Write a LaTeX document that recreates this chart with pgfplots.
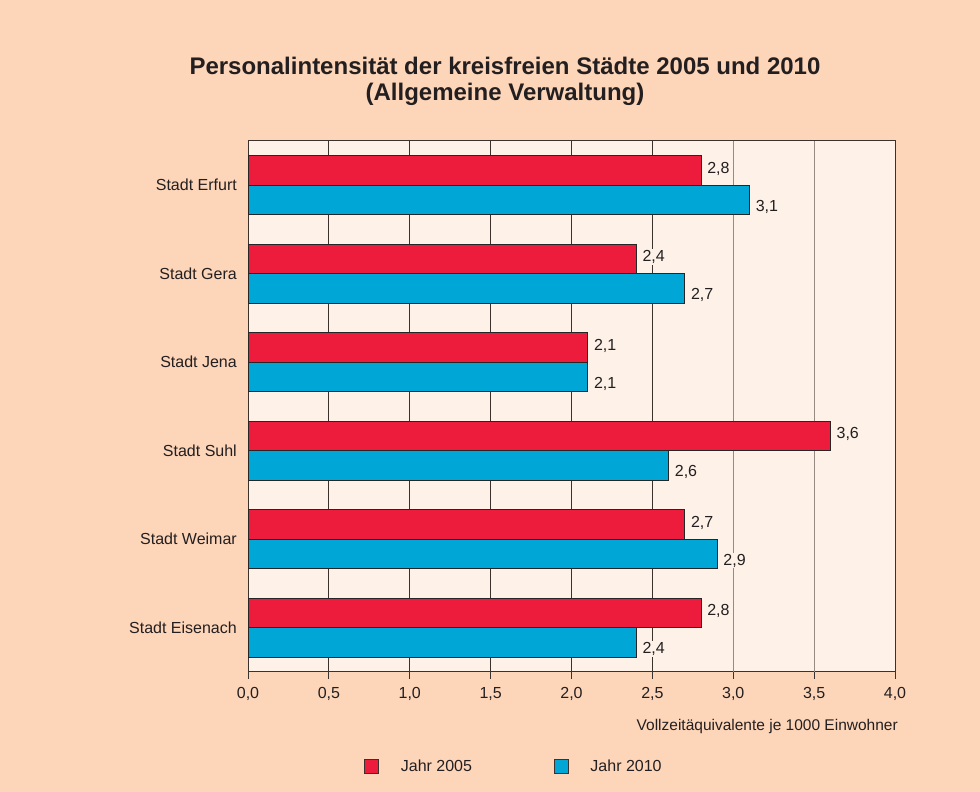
\documentclass[border=0pt]{standalone}
\usepackage{fontspec}
\setmainfont{Liberation Sans}
\usepackage{pgfplots}
\pgfplotsset{compat=1.18}
\definecolor{outerbg}{RGB}{253,213,185}
\definecolor{plotbg}{RGB}{253,241,232}
\definecolor{barred}{RGB}{238,28,60}
\definecolor{barblue}{RGB}{0,166,214}
\definecolor{txt}{RGB}{35,31,32}
\definecolor{griddark}{RGB}{60,50,45}
\definecolor{gridlight}{RGB}{150,138,130}
\begin{document}
\begin{tikzpicture}[x=1pt,y=1pt]
\fill[outerbg] (0,0) rectangle (980,792);
\begin{axis}[
  at={(248pt,120pt)}, anchor=south west,
  scale only axis, width=647pt, height=531pt,
  xmin=0, xmax=4, ymin=-0.5, ymax=5.5,
  xbar, bar width=29.5pt,
  axis background/.style={fill=plotbg},
  axis line style={draw=griddark, line width=1pt},
  xtick={0,0.5,1,1.5,2,2.5,4},
  extra x ticks={3,3.5},
  extra x tick style={grid style={gridlight, line width=1pt}},
  xmajorgrids, grid style={griddark, line width=0.9pt},
  tick align=outside, xtick pos=bottom, ytick pos=left, major tick length=7pt,
  tick style={griddark, line width=0.9pt},
  ytick={0,...,5}, ytick style={draw=none},
  yticklabels={Stadt Eisenach,Stadt Weimar,Stadt Suhl,Stadt Jena,Stadt Gera,Stadt Erfurt},
  /pgf/number format/.cd, use comma, fixed, fixed zerofill, precision=1, assume math mode=true,
  /pgfplots/.cd,
  every tick label/.append style={font=\fontsize{16}{19}\selectfont, text=txt},
  yticklabel style={inner sep=0pt, xshift=-4pt},
  xticklabel style={inner sep=0pt, yshift=-8pt},
  xlabel={Vollzeitäquivalente je 1000 Einwohner},
  xlabel style={at={(axis description cs:1.0046,-0.111)}, anchor=base east, inner sep=0pt, font=\fontsize{15.5}{18}\selectfont, text=txt},
  legend style={at={(axis description cs:0.411,-0.177)}, anchor=center, draw=none, fill=none,
    legend columns=2, font=\fontsize{16}{19}\selectfont, text=txt,
    /tikz/every odd column/.append style={column sep=20pt},
    /tikz/every even column/.append style={column sep=79.7pt}},
  legend image code/.code={\draw[#1, draw=griddark, line width=0.7pt] (0pt,-7pt) rectangle (14pt,7pt);},
  nodes near coords,
  every node near coord/.append style={font=\fontsize{16}{19}\selectfont, text=txt, fill=plotbg, inner sep=1pt, anchor=west, xshift=5pt},
]
\addplot[fill=barred, draw=black!85, line width=0.7pt, bar shift=14.75pt,
  every node near coord/.append style={yshift=2pt}]
  coordinates {(2.8,5) (2.4,4) (2.1,3) (3.6,2) (2.7,1) (2.8,0)};
\addlegendentry{Jahr 2005}
\addplot[fill=barblue, draw=black!85, line width=0.7pt, bar shift=-14.75pt,
  every node near coord/.append style={yshift=-6.5pt}]
  coordinates {(3.1,5) (2.7,4) (2.1,3) (2.6,2) (2.9,1) (2.4,0)};
\addlegendentry{Jahr 2010}
\end{axis}
\node[anchor=base, font=\fontsize{24}{26}\selectfont\bfseries, text=txt] at (505,717) {Personalintensität der kreisfreien Städte 2005 und 2010};
\node[anchor=base, font=\fontsize{24}{26}\selectfont\bfseries, text=txt] at (505,691) {(Allgemeine Verwaltung)};
\end{tikzpicture}
\end{document}
